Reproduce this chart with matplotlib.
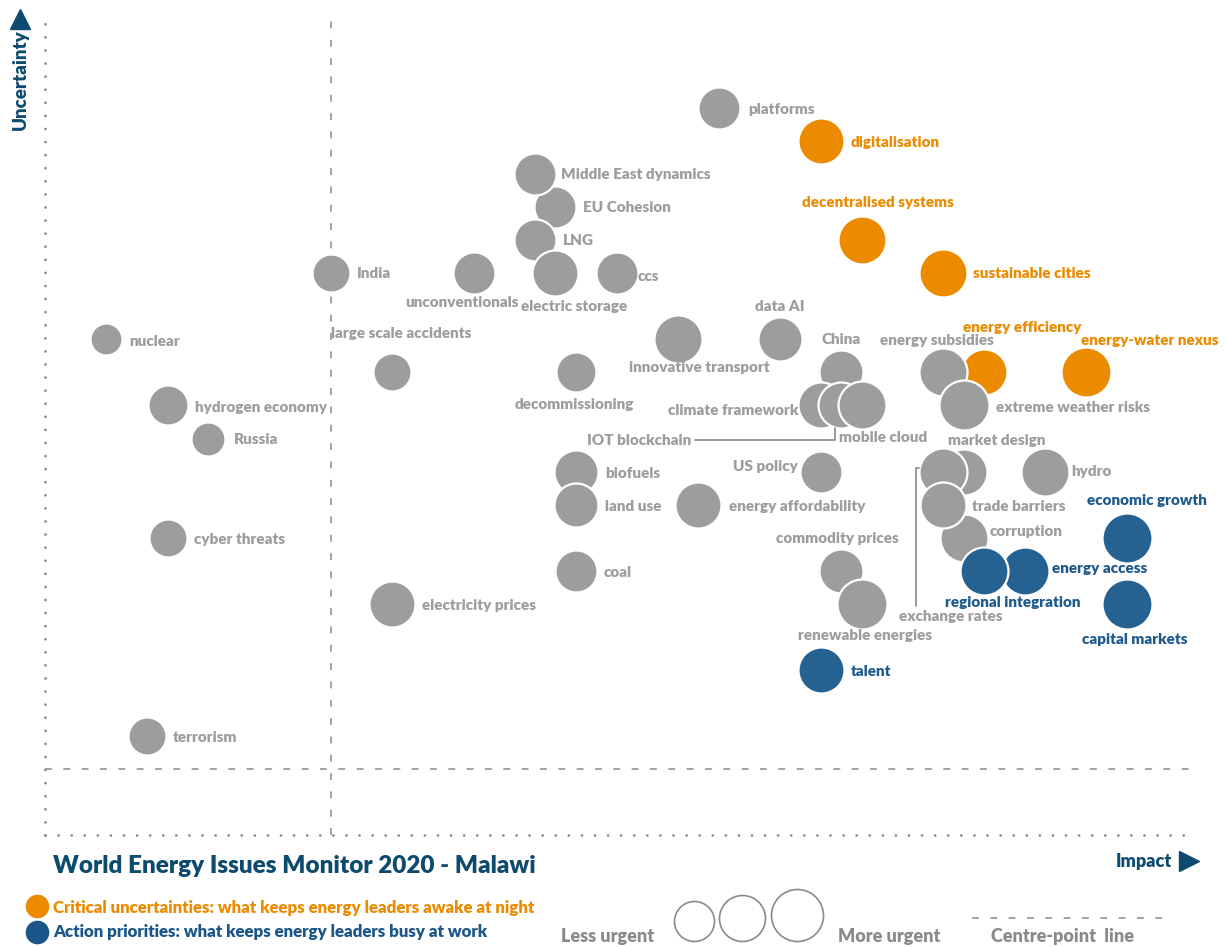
import matplotlib.pyplot as plt
from matplotlib.lines import Line2D

# issue data: impact / uncertainty relative to centre point, urgency -> bubble size
names = ["nuclear", "hydrogen economy", "Russia", "cyber threats", "terrorism",
         "India", "large scale accidents", "electricity prices", "unconventionals",
         "EU Cohesion", "Middle East dynamics", "LNG", "electric storage",
         "decommissioning", "biofuels", "land use", "coal", "ccs",
         "innovative transport", "energy affordability", "platforms", "data AI",
         "US policy", "talent", "digitalisation", "China", "climate framework",
         "IOT blockchain", "mobile cloud", "commodity prices", "renewable energies",
         "decentralised systems", "energy efficiency", "energy subsidies",
         "extreme weather risks", "sustainable cities", "market design",
         "exchange rates", "corruption", "trade barriers", "energy access",
         "regional integration", "hydro", "energy-water nexus", "economic growth",
         "capital markets"]
impact = [-11, -8, -6, -8, -9,
          0, 3, 3, 7,
          11, 10, 10, 11,
          12, 12, 12, 12, 14,
          17, 18, 19, 22,
          24, 24, 24, 25, 24,
          25, 26, 25, 26,
          26, 32, 30,
          31, 30, 31,
          30, 31, 30, 34,
          32, 35, 37, 39,
          39]
uncertainty = [13, 11, 10, 7, 1,
               15, 12, 5, 15,
               17, 18, 16, 15,
               12, 9, 8, 6, 15,
               13, 8, 20, 13,
               9, 3, 19, 12, 11,
               11, 11, 6, 5,
               16, 12, 12,
               11, 15, 9,
               9, 7, 8, 6,
               6, 9, 12, 7,
               5]
urgency = [3.2, 4.0, 3.4, 3.8, 3.8,
           3.8, 3.8, 4.6, 4.2,
           4.2, 4.2, 4.2, 4.6,
           4.0, 4.4, 4.4, 4.2, 4.2,
           4.8, 4.6, 4.2, 4.4,
           4.2, 4.6, 4.6, 4.4, 4.6,
           4.6, 4.8, 4.4, 5.0,
           4.8, 4.6, 4.8,
           5.0, 4.8, 4.6,
           4.8, 4.8, 4.6, 4.8,
           4.8, 4.8, 5.0, 5.0,
           5.0]
uncertainties = ["digitalisation", "decentralised systems", "sustainable cities",
                 "energy efficiency", "energy-water nexus"]
priorities = ["talent", "energy access", "regional integration",
              "economic growth", "capital markets"]

GREY = '#9d9d9d'
ORANGE = '#ec8b00'
BLUE = '#256191'
BLUE_TXT = '#1f5a8c'
NAVY = '#0c4a6e'
LINE = '#8a8a8a'

# label placement: (ha, dx px, dy px) relative to bubble centre
label_pos = {
    "nuclear": ('left', 23, -2), "hydrogen economy": ('left', 27, -2),
    "Russia": ('left', 25, -1), "cyber threats": ('left', 26, -2),
    "terrorism": ('left', 25, -2), "India": ('left', 26, 0),
    "large scale accidents": ('center', 9, 39), "electricity prices": ('left', 30, -2),
    "unconventionals": ('right', 45, -29), "EU Cohesion": ('left', 28, 0),
    "Middle East dynamics": ('left', 26, 0), "LNG": ('left', 28, 0),
    "electric storage": ('center', 19, -33), "decommissioning": ('center', -2, -32),
    "biofuels": ('left', 29, -2), "land use": ('left', 29, -2), "coal": ('left', 28, -2),
    "ccs": ('left', 21, -3), "innovative transport": ('center', 21, -28),
    "energy affordability": ('left', 31, -2), "platforms": ('left', 30, -1),
    "data AI": ('center', 0, 33), "US policy": ('right', -23, 5),
    "talent": ('left', 30, -2), "digitalisation": ('left', 30, -1),
    "China": ('center', 0, 33), "climate framework": ('right', -22, -5),
    "mobile cloud": ('left', -23, -32),
    "commodity prices": ('center', -4, 32), "renewable energies": ('center', 3, -32),
    "decentralised systems": ('center', 16, 38), "energy efficiency": ('center', 38, 45),
    "energy subsidies": ('center', -6, 32), "extreme weather risks": ('left', 32, -2),
    "sustainable cities": ('left', 30, 0), "market design": ('center', 33, 31),
    "corruption": ('left', 26, 6),
    "trade barriers": ('left', 29, -2), "energy access": ('left', 27, 2),
    "regional integration": ('center', 29, -32), "hydro": ('left', 26, 0),
    "energy-water nexus": ('center', 64, 32), "economic growth": ('center', 20, 37),
    "capital markets": ('center', 8, -36),
}
# labels joined by an elbow line: anchor on bubble (px, image-down), text offset
# from anchor (px, y up), ha, start point on text, elbow style
connectors = {
    "IOT blockchain": ((-6, 23), (-144, -12), 'right', (1, 0.5),
                       'angle,angleA=0,angleB=90,rad=0'),
    "exchange rates": ((-24, -4), (32, -149), 'center', (0.16, 1.0),
                       'angle,angleA=90,angleB=0,rad=0'),
}

plt.rcParams['font.family'] = ['Lato', 'DejaVu Sans']
PT = 0.72  # points per pixel at dpi 100
XS, YS = 20.41, 33.05  # px per data unit
W = 'heavy'

fig = plt.figure(figsize=(12.26, 9.47), dpi=100)
ax = fig.add_axes([45 / 1226, 112 / 947, 1145 / 1226, 825 / 947])
ax.set_xlim(-14.01, 42.09)
ax.set_ylim(-2.0, 22.97)
ax.axis('off')

# dotted axes
dot = dict(color=LINE, lw=2.0, ls=(0, (0.01, 4.7)), dash_capstyle='round', clip_on=False)
ax.plot([-14.01, -14.01], [-2.0, 22.6], **dot)
ax.plot([-14.01, 42.09], [-2.0, -2.0], **dot)

# centre-point lines
dash = dict(color=LINE, lw=1.1, ls=(0, (4.5, 7.5)))
ax.plot([0, 0], [-2.0, 22.97], **dash)
ax.plot([-14.01, 42.09], [0, 0], **dash)

FS = 11
for i, n in enumerate(names):
    if n in uncertainties:
        col, tcol = ORANGE, ORANGE
    elif n in priorities:
        col, tcol = BLUE, BLUE_TXT
    else:
        col, tcol = GREY, GREY
    d = urgency[i] * 10 * PT
    ax.scatter(impact[i], uncertainty[i], s=d ** 2, color=col, edgecolor='white',
               linewidth=1.6, zorder=3 + i)
    if n in connectors:
        (ax_, ay_), (tx, ty), ha, rel, style = connectors[n]
        ax.annotate(n, (impact[i] + ax_ / XS, uncertainty[i] - ay_ / YS),
                    xytext=(tx * PT, ty * PT), textcoords='offset points',
                    ha=ha, va='center', color=tcol, fontsize=FS, fontweight=W,
                    zorder=100,
                    arrowprops=dict(arrowstyle='-', color=LINE, lw=1.2, shrinkA=1,
                                    shrinkB=0, relpos=rel, connectionstyle=style))
        continue
    ha, dx, dy = label_pos[n]
    ax.annotate(n, (impact[i], uncertainty[i]), xytext=(dx * PT, dy * PT),
                textcoords='offset points', ha=ha, va='center', color=tcol,
                fontsize=FS, fontweight=W, zorder=100)

# axis titles
fig.text(20 / 1226, 1 - 80 / 947, "Uncertainty", rotation=90, ha='center', va='center',
         color=NAVY, fontsize=13.5, fontweight=W)
fig.lines.append(Line2D([20 / 1226], [1 - 19 / 947], marker='^', ms=14, color=NAVY,
                        transform=fig.transFigure))
fig.text(1172 / 1226, 1 - 861 / 947, "Impact", ha='right', va='center',
         color=NAVY, fontsize=13, fontweight=W)
fig.lines.append(Line2D([1189 / 1226], [1 - 861 / 947], marker='>', ms=14, color=NAVY,
                        transform=fig.transFigure))

# title and legend
fig.text(53 / 1226, 1 - 866 / 947, "World Energy Issues Monitor 2020 - Malawi",
         ha='left', va='center', color=NAVY, fontsize=17.5, fontweight=W)
fig.lines.append(Line2D([37 / 1226], [1 - 906 / 947], marker='o', ms=16, color=ORANGE,
                        transform=fig.transFigure))
fig.text(53 / 1226, 1 - 908 / 947, "Critical uncertainties: what keeps energy leaders awake at night",
         ha='left', va='center', color=ORANGE, fontsize=12.2, fontweight=W)
fig.lines.append(Line2D([37 / 1226], [1 - 932 / 947], marker='o', ms=16, color='#1b5589',
                        transform=fig.transFigure))
fig.text(53 / 1226, 1 - 932 / 947, "Action priorities: what keeps energy leaders busy at work",
         ha='left', va='center', color='#1b5589', fontsize=12.2, fontweight=W)

fig.text(561 / 1226, 1 - 936 / 947, "Less urgent", ha='left', va='center',
         color='#8a8a8a', fontsize=13, fontweight=W)
for cx, r in [(694, 20), (742, 23), (797, 26)]:
    fig.lines.append(Line2D([cx / 1226], [1 - (941 - r) / 947], marker='o', ms=2 * r * PT,
                            mfc='white', mec='#8a8a8a', mew=1.2, transform=fig.transFigure))
fig.text(838 / 1226, 1 - 936 / 947, "More urgent", ha='left', va='center',
         color='#8a8a8a', fontsize=13, fontweight=W)
fig.lines.append(Line2D([972 / 1226, 1172 / 1226], [1 - 918 / 947] * 2, color=LINE, lw=1.1,
                       ls=(0, (4.5, 7.5)), transform=fig.transFigure))
fig.text(991 / 1226, 1 - 936 / 947, "Centre-point  line", ha='left', va='center',
         color='#8a8a8a', fontsize=13, fontweight=W)

fig.savefig('out.png', dpi=100)
